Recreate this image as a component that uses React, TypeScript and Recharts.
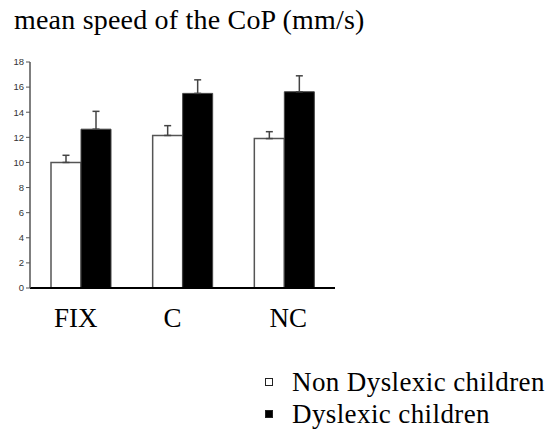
import { BarChart, Bar, XAxis, YAxis, ErrorBar } from 'recharts'

const conditions = ['FIX', 'C', 'NC']
const nonDyslexic = [10.0, 12.15, 11.9]
const nonDyslexicErr = [0.57, 0.78, 0.55]
const dyslexic = [12.65, 15.5, 15.63]
const dyslexicErr = [1.42, 1.08, 1.27]
const yTicks = [0, 2, 4, 6, 8, 10, 12, 14, 16, 18]
const legendLabels = ['Non Dyslexic children', 'Dyslexic children']

const data = conditions.map((name, i) => ({
  name,
  nonDys: nonDyslexic[i],
  nonDysErr: [0, nonDyslexicErr[i]],
  dys: dyslexic[i],
  dysErr: [0, dyslexicErr[i]],
}))

const serif = '"Liberation Serif", "Times New Roman", serif'

// labels in the original sit a little off the group centres
const labelShift = [-5, -10, 4]

function CategoryTick({ x, y, payload, index }: any) {
  return (
    <text
      x={x + (labelShift[index] || 0)}
      y={y + 31}
      textAnchor="middle"
      fontFamily={serif}
      fontSize={27}
      fill="#000"
    >
      {payload.value}
    </text>
  )
}

function ChartLegend() {
  return (
    <div
      style={{
        position: 'absolute',
        left: 265,
        top: 366,
        fontFamily: serif,
        fontSize: 27,
        letterSpacing: 0.4,
        lineHeight: '32px',
        color: '#000',
      }}
    >
      {legendLabels.map((label, i) => (
        <div key={label} style={{ display: 'flex', alignItems: 'center', whiteSpace: 'nowrap' }}>
          <span
            style={{
              display: 'inline-block',
              width: 6,
              height: 6,
              border: '1px solid #222',
              background: i === 0 ? '#fff' : '#000',
              marginRight: 19,
            }}
          />
          {label}
        </div>
      ))}
    </div>
  )
}

export default function App() {
  return (
    <div style={{ position: 'absolute', left: 0, top: 0, width: 550, height: 433, background: '#fff' }}>
      <div
        style={{
          position: 'absolute',
          left: 14,
          top: 4,
          fontFamily: serif,
          fontSize: 28,
          letterSpacing: 0.2,
          lineHeight: '32px',
          color: '#000',
          whiteSpace: 'nowrap',
        }}
      >
        mean speed of the CoP (mm/s)
      </div>
      <BarChart
        width={550}
        height={433}
        data={data}
        margin={{ top: 62, right: 215, bottom: 95, left: 0 }}
        barGap={0}
        barSize={30}
      >
        <XAxis
          dataKey="name"
          height={50}
          tickLine={false}
          axisLine={{ stroke: '#000', strokeWidth: 2 }}
          tick={<CategoryTick />}
          interval={0}
        />
        <YAxis
          width={30}
          domain={[0, 18]}
          ticks={yTicks}
          interval={0}
          tickSize={4}
          tickMargin={2}
          axisLine={{ stroke: '#555', strokeWidth: 1.5 }}
          tickLine={{ stroke: '#555' }}
          tick={{ fontFamily: '"Liberation Sans", Arial, sans-serif', fontSize: 9.5, fill: '#333' }}
        />
        <Bar dataKey="nonDys" fill="#fff" stroke="#555" strokeWidth={1.5} isAnimationActive={false}>
          <ErrorBar dataKey="nonDysErr" direction="y" width={3.5} stroke="#444" strokeWidth={1.5} />
        </Bar>
        <Bar dataKey="dys" fill="#000" stroke="#444" strokeWidth={1} isAnimationActive={false}>
          <ErrorBar dataKey="dysErr" direction="y" width={3.5} stroke="#444" strokeWidth={1.5} />
        </Bar>
      </BarChart>
      <ChartLegend />
    </div>
  )
}
